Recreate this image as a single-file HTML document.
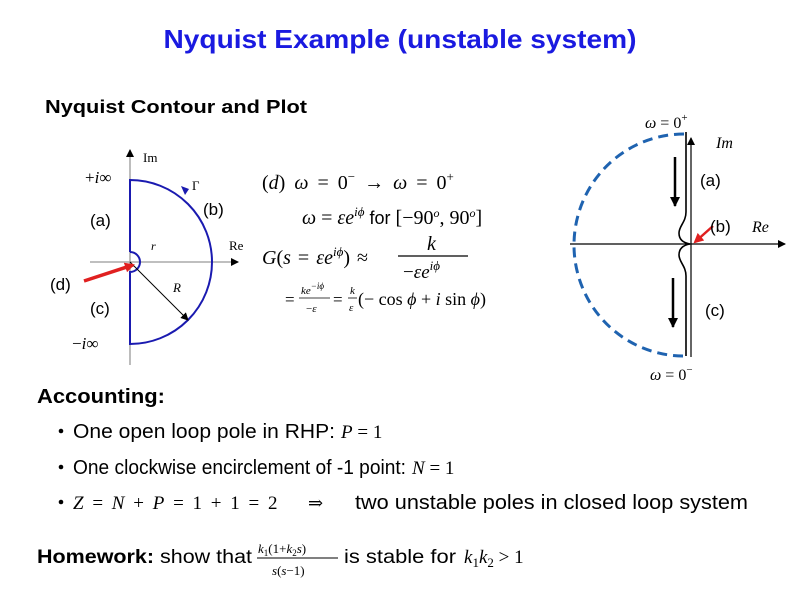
<!DOCTYPE html>
<html><head><meta charset="utf-8"><style>
html,body{margin:0;padding:0;background:#fff}
svg{display:block}
.s{font-family:"Liberation Sans",sans-serif}
.m{font-family:"Liberation Serif","DejaVu Serif",serif}
</style></head><body>
<svg width="799" height="599" viewBox="0 0 799 599" xmlns="http://www.w3.org/2000/svg">
<defs>
<marker id="ah" markerWidth="8" markerHeight="8" refX="7" refY="4" orient="auto" markerUnits="userSpaceOnUse"><path d="M0,0 L8,4 L0,8 z" fill="#000"/></marker>
<marker id="ahb" markerWidth="10" markerHeight="10" refX="9" refY="5" orient="auto" markerUnits="userSpaceOnUse"><path d="M0,0 L10,5 L0,10 z" fill="#000"/></marker>
<marker id="ahr" markerWidth="10" markerHeight="10" refX="8" refY="5" orient="auto" markerUnits="userSpaceOnUse"><path d="M0,0 L10,5 L0,10 z" fill="#e02020"/></marker>
</defs>
<text x="400" y="48" text-anchor="middle" class="s" font-size="26" font-weight="bold" fill="#1a1ae0" textLength="473" lengthAdjust="spacingAndGlyphs">Nyquist Example (unstable system)</text>
<text x="45" y="113" class="s" font-size="18" font-weight="bold" textLength="262" lengthAdjust="spacingAndGlyphs">Nyquist Contour and Plot</text>

<line x1="130" y1="365" x2="130" y2="150" stroke="#999" stroke-width="1.3" marker-end="url(#ah)"/>
<line x1="90" y1="262" x2="238" y2="262" stroke="#999" stroke-width="1.3" marker-end="url(#ah)"/>
<path d="M130,252 L130,180 A82,82 0 0 1 130,344 L130,272 A10,10 0 0 0 130,252" fill="none" stroke="#1a1ab0" stroke-width="2"/>
<path d="M185,195 l-4,-9 l8,3 z" fill="#1a1ab0"/>
<line x1="130" y1="262" x2="188" y2="320" stroke="#000" stroke-width="1" marker-end="url(#ah)"/>
<line x1="84" y1="281" x2="133" y2="265" stroke="#e02020" stroke-width="3.5" marker-end="url(#ahr)"/>
<text x="143" y="162" class="m" font-size="13">Im</text>
<text x="229" y="250" class="m" font-size="13">Re</text>
<text x="192" y="190" class="m" font-size="13">Γ</text>
<text x="151" y="250" class="m" font-size="12" font-style="italic">r</text>
<text x="173" y="292" class="m" font-size="13" font-style="italic">R</text>
<text x="85" y="183" class="m" font-size="17">+<tspan font-style="italic">i</tspan>∞</text>
<text x="72" y="349" class="m" font-size="17">−<tspan font-style="italic">i</tspan>∞</text>
<text x="90" y="226" class="s" font-size="17">(a)</text>
<text x="203" y="215" class="s" font-size="17">(b)</text>
<text x="50" y="290" class="s" font-size="17">(d)</text>
<text x="90" y="314" class="s" font-size="17">(c)</text>

<text x="262" y="189" class="m" font-size="20" word-spacing="4">(<tspan font-style="italic">d</tspan>) <tspan font-style="italic">ω</tspan> = 0<tspan font-size="13" dy="-8">−</tspan><tspan dy="8"> → </tspan><tspan font-style="italic">ω</tspan> = 0<tspan font-size="13" dy="-8">+</tspan></text>
<text x="302" y="224" class="m" font-size="20"><tspan font-style="italic">ω</tspan> = <tspan font-style="italic">εe</tspan><tspan font-size="13" dy="-8" font-style="italic">iϕ</tspan><tspan dy="8" font-family="Liberation Sans" font-size="18"> for </tspan>[−90<tspan font-size="12" dy="-7" font-style="italic">o</tspan><tspan dy="7">, 90</tspan><tspan font-size="12" dy="-7" font-style="italic">o</tspan><tspan dy="7">]</tspan></text>
<text x="262" y="264" class="m" font-size="20" word-spacing="2"><tspan font-style="italic">G</tspan>(<tspan font-style="italic">s</tspan> = <tspan font-style="italic">εe</tspan><tspan font-size="13" dy="-8" font-style="italic">iϕ</tspan><tspan dy="8">) ≈</tspan></text>
<text x="427" y="250" class="m" font-size="20" font-style="italic">k</text>
<line x1="398" y1="256" x2="468" y2="256" stroke="#000" stroke-width="1.2"/>
<text x="403" y="278" class="m" font-size="19">−<tspan font-style="italic">εe</tspan><tspan font-size="13" dy="-8" font-style="italic">iϕ</tspan></text>
<text x="285" y="305" class="m" font-size="17">=</text>
<text x="301" y="294" class="m" font-size="11" font-style="italic">ke<tspan font-size="9" dy="-5">−iϕ</tspan></text>
<line x1="299" y1="298" x2="330" y2="298" stroke="#000" stroke-width="0.8"/>
<text x="306" y="312" class="m" font-size="11">−<tspan font-style="italic">ε</tspan></text>
<text x="333" y="305" class="m" font-size="17">=</text>
<text x="350" y="294" class="m" font-size="11" font-style="italic">k</text>
<line x1="348" y1="298" x2="357" y2="298" stroke="#000" stroke-width="0.8"/>
<text x="349" y="311" class="m" font-size="11" font-style="italic">ε</text>
<text x="358" y="305" class="m" font-size="18">(− cos <tspan font-style="italic">ϕ</tspan> + <tspan font-style="italic">i</tspan> sin <tspan font-style="italic">ϕ</tspan>)</text>

<line x1="570" y1="244" x2="785" y2="244" stroke="#000" stroke-width="1.2" marker-end="url(#ah)"/>
<line x1="691" y1="357" x2="691" y2="138" stroke="#000" stroke-width="1.2" marker-end="url(#ah)"/>
<path d="M684,134 A110,111 0 0 0 684,356" fill="none" stroke="#1f63b0" stroke-width="3" stroke-dasharray="10,6"/>
<path d="M686,132 L686,212 C686,222 679,226 679,233 C679,240 684,243 690,244 C684,245 679,248 679,255 C679,262 686,266 686,276 L686,356" fill="none" stroke="#000" stroke-width="1.6"/>
<line x1="675" y1="157" x2="675" y2="206" stroke="#000" stroke-width="2.5" marker-end="url(#ahb)"/>
<line x1="673" y1="278" x2="673" y2="327" stroke="#000" stroke-width="2.5" marker-end="url(#ahb)"/>
<line x1="713" y1="226" x2="695" y2="242" stroke="#e02020" stroke-width="2.5" marker-end="url(#ahr)"/>
<text x="645" y="128" class="m" font-size="16"><tspan font-style="italic">ω</tspan> = 0<tspan font-size="11" dy="-7">+</tspan></text>
<text x="650" y="380" class="m" font-size="16"><tspan font-style="italic">ω</tspan> = 0<tspan font-size="11" dy="-7">−</tspan></text>
<text x="716" y="148" class="m" font-size="16" font-style="italic">Im</text>
<text x="752" y="232" class="m" font-size="16" font-style="italic">Re</text>
<text x="700" y="186" class="s" font-size="17">(a)</text>
<text x="710" y="232" class="s" font-size="17">(b)</text>
<text x="705" y="316" class="s" font-size="17">(c)</text>

<text x="37" y="403" class="s" font-size="20" font-weight="bold" textLength="128" lengthAdjust="spacingAndGlyphs">Accounting:</text>
<circle cx="61" cy="431" r="2.3" fill="#000"/>
<circle cx="61" cy="467" r="2.3" fill="#000"/>
<circle cx="61" cy="502" r="2.3" fill="#000"/>
<text x="73" y="438" class="s" font-size="20" textLength="262" lengthAdjust="spacingAndGlyphs">One open loop pole in RHP:</text>
<text x="341" y="438" class="m" font-size="19"><tspan font-style="italic">P</tspan> = 1</text>
<text x="73" y="474" class="s" font-size="20" textLength="333" lengthAdjust="spacingAndGlyphs">One clockwise encirclement of -1 point:</text>
<text x="412" y="474" class="m" font-size="19"><tspan font-style="italic">N</tspan> = 1</text>
<text x="73" y="509" class="m" font-size="19" word-spacing="4"><tspan font-style="italic">Z</tspan> = <tspan font-style="italic">N</tspan> + <tspan font-style="italic">P</tspan> = 1 + 1 = 2</text>
<text x="308" y="509" class="m" font-size="18">⇒</text>
<text x="355" y="509" class="s" font-size="20" textLength="393" lengthAdjust="spacingAndGlyphs">two unstable poles in closed loop system</text>

<text x="37" y="563" class="s" font-size="19" textLength="215" lengthAdjust="spacingAndGlyphs"><tspan font-weight="bold">Homework:</tspan> show that</text>
<text x="258" y="553" class="m" font-size="13"><tspan font-style="italic">k</tspan><tspan font-size="9" dy="3">1</tspan><tspan dy="-3">(1+</tspan><tspan font-style="italic">k</tspan><tspan font-size="9" dy="3">2</tspan><tspan dy="-3" font-style="italic">s</tspan>)</text>
<line x1="257" y1="558" x2="338" y2="558" stroke="#000" stroke-width="1"/>
<text x="272" y="575" class="m" font-size="13"><tspan font-style="italic">s</tspan>(<tspan font-style="italic">s</tspan>−1)</text>
<text x="344" y="563" class="s" font-size="19" textLength="112" lengthAdjust="spacingAndGlyphs">is stable for</text>
<text x="464" y="563" class="m" font-size="19"><tspan font-style="italic">k</tspan><tspan font-size="13" dy="4">1</tspan><tspan dy="-4" font-style="italic">k</tspan><tspan font-size="13" dy="4">2</tspan><tspan dy="-4"> &gt; 1</tspan></text>
</svg>
</body></html>
